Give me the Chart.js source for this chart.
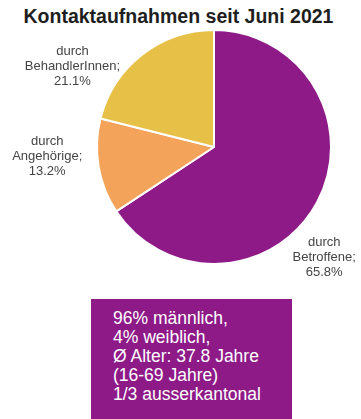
<!DOCTYPE html>
<html>
<head>
<meta charset="utf-8">
<script src="https://cdn.jsdelivr.net/npm/chart.js@4"></script>
<style>
  body { margin: 0; background: #fff; }
  #wrap { position: relative; width: 361px; height: 419px; overflow: hidden; font-family: "Liberation Sans", Arial, sans-serif; }
  #titel { position: absolute; left: 0; top: 5px; width: 357px; text-align: center; font-weight: bold; font-size: 19.5px; color: #1e1e1e; }
  #grafik { position: absolute; left: 0; top: 0; }
  #infobox { position: absolute; left: 91px; top: 299px; width: 201px; height: 130px; background: #8e1a88; color: #fff;
             box-sizing: border-box; padding: 10px 0 0 22px; font-size: 17.5px; line-height: 19px; }
</style>
</head>
<body>
<div id="wrap">
  <div id="titel">Kontaktaufnahmen seit Juni 2021</div>
  <canvas id="grafik" width="361" height="419"></canvas>
  <div id="infobox"></div>
</div>
<script>
// Anteile der Kontaktaufnahmen
var kategorien = ["Betroffene", "Angehörige", "BehandlerInnen"];
var anteile = [65.8, 13.2, 21.1];
var farben = ["#8e1a88", "#f4a35a", "#e7c147"];

// Text der Infobox
var infoZeilen = ["96% männlich,", "4% weiblich,", "Ø Alter: 37.8 Jahre", "(16-69 Jahre)", "1/3 ausserkantonal"];

// Verschiebung der Beschriftungen gegenüber der Segmentmitte
var labelVersatz = [[-28, 36], [-12, -17], [-45, 43]];

infobox.innerHTML = infoZeilen.join("<br>");

var beschriftungen = {
    id: "beschriftungen",
    afterDatasetsDraw: function (chart) {
        var ctx = chart.ctx;
        var meta = chart.getDatasetMeta(0);
        ctx.save();
        ctx.font = "13px 'Liberation Sans', Arial, sans-serif";
        ctx.fillStyle = "#444";
        ctx.textAlign = "center";
        ctx.textBaseline = "middle";
        meta.data.forEach(function (arc, i) {
            var p = arc.getProps(["x", "y", "startAngle", "endAngle", "outerRadius"], true);
            var mitte = (p.startAngle + p.endAngle) / 2;
            var r = p.outerRadius + 40;
            var cx = p.x + Math.cos(mitte) * r + labelVersatz[i][0];
            var cy = p.y + Math.sin(mitte) * r + labelVersatz[i][1];
            var zeilen = ["durch", kategorien[i] + ";", anteile[i].toFixed(1) + "%"];
            zeilen.forEach(function (z, k) {
                ctx.fillText(z, cx, cy + (k - 1) * 15);
            });
        });
        ctx.restore();
    }
};

new Chart(grafik.getContext("2d"), {
    type: "pie",
    data: {
        labels: kategorien,
        datasets: [{
            data: anteile,
            backgroundColor: farben,
            borderColor: "#fff",
            borderWidth: 2
        }]
    },
    options: {
        responsive: false,
        animation: false,
        layout: { padding: { left: 96, right: 29, top: 29, bottom: 154 } },
        plugins: {
            legend: { display: false },
            tooltip: { enabled: false }
        }
    },
    plugins: [beschriftungen]
});
</script>
</body>
</html>
